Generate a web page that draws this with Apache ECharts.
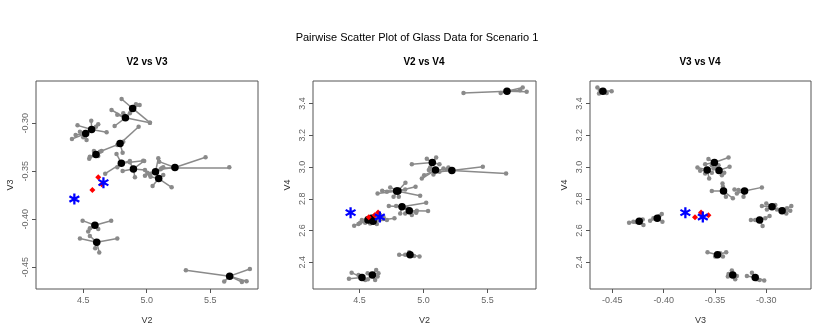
<!DOCTYPE html>
<html>
<head>
<meta charset="utf-8">
<script src="https://cdn.jsdelivr.net/npm/echarts@6/dist/echarts.min.js"></script>
<style>
  html, body { margin: 0; padding: 0; background: #fff; }
  #main { width: 830px; height: 334px; }
</style>
</head>
<body>
<div id="main"></div>
<script>
// cluster centres, same order in every array: A B C D E1 E2 F G H I J K L M
var centerV2 = [5.653, 5.069, 5.094, 5.222, 4.800, 4.790, 4.832, 4.889, 4.566, 4.606, 4.592, 4.895, 4.600, 4.519];
var centerV3 = [-0.4592, -0.3505, -0.3575, -0.3460, -0.3416, -0.3211, -0.2943, -0.2845, -0.3064, -0.4238, -0.4062, -0.3475, -0.3326, -0.3107];
var centerV4 = [3.478, 3.029, 2.981, 2.979, 2.849, 2.849, 2.750, 2.725, 2.666, 2.658, 2.677, 2.448, 2.320, 2.304];

// neighbours of each centre, read per panel
var satV2V3 = [
  [[5.308,-0.4531],[5.812,-0.4517],[5.610,-0.4649],[5.749,-0.4653],[5.786,-0.4646]],
  [[5.091,-0.3365],[4.986,-0.3545],[5.025,-0.3538],[5.117,-0.3469],[5.004,-0.3514]],
  [[5.046,-0.3653],[5.196,-0.3667],[5.130,-0.3538],[5.077,-0.3514],[5.030,-0.3556]],
  [[5.463,-0.3354],[5.650,-0.3458],[5.130,-0.3458],[5.109,-0.3479],[5.098,-0.3399]],
  [[4.762,-0.3319],[4.673,-0.3524],[4.972,-0.3389],[4.867,-0.3392],[4.768,-0.3458]],
  [[4.936,-0.3035],[4.810,-0.3306],[4.768,-0.3226],[4.644,-0.3288],[4.815,-0.3191]],
  [[4.723,-0.2861],[4.768,-0.2910],[4.747,-0.3028],[5.025,-0.2993],[4.815,-0.2896]],
  [[4.802,-0.2747],[4.944,-0.2809],[4.867,-0.2896],[5.025,-0.2993],[4.915,-0.2802]],
  [[4.455,-0.3021],[4.563,-0.2972],[4.618,-0.3010],[4.684,-0.3094],[4.600,-0.3035]],
  [[4.474,-0.4201],[4.768,-0.4201],[4.552,-0.4174],[4.626,-0.4347],[4.594,-0.4302]],
  [[4.495,-0.4014],[4.720,-0.4014],[4.539,-0.4128],[4.618,-0.4101],[4.552,-0.4094]],
  [[4.980,-0.3392],[4.907,-0.3563],[4.810,-0.3497],[4.986,-0.3486],[4.867,-0.3406]],
  [[4.547,-0.3368],[4.584,-0.3288],[4.552,-0.3347],[4.631,-0.3295],[4.618,-0.3340]],
  [[4.411,-0.3163],[4.440,-0.3122],[4.500,-0.3146],[4.474,-0.3087],[4.526,-0.3174]]
];
var satV2V4 = [
  [[5.313,3.467],[5.604,3.467],[5.776,3.501],[5.807,3.475],[5.755,3.484]],
  [[4.909,3.018],[5.026,3.052],[5.099,3.060],[5.125,3.018],[5.052,2.997]],
  [[5.042,2.981],[5.005,2.949],[4.987,2.928],[5.078,2.953],[5.182,2.985]],
  [[5.464,3.002],[5.646,2.960],[5.156,2.991],[5.195,2.997],[5.125,2.970]],
  [[4.641,2.834],[4.859,2.901],[4.938,2.876],[4.766,2.813],[4.740,2.872]],
  [[4.677,2.851],[4.974,2.819],[4.807,2.813],[4.857,2.859],[4.714,2.844]],
  [[4.729,2.754],[4.786,2.754],[5.021,2.775],[4.818,2.708],[4.870,2.740]],
  [[5.036,2.723],[4.943,2.712],[4.857,2.708],[4.909,2.698],[4.948,2.725]],
  [[4.458,2.631],[4.492,2.641],[4.518,2.666],[4.609,2.687],[4.544,2.650]],
  [[4.773,2.677],[4.648,2.670],[4.714,2.666],[4.635,2.641],[4.583,2.645]],
  [[4.505,2.649],[4.661,2.698],[4.622,2.687],[4.557,2.677],[4.688,2.683]],
  [[4.810,2.448],[4.888,2.463],[4.969,2.436],[4.927,2.440],[4.857,2.448]],
  [[4.630,2.352],[4.641,2.310],[4.622,2.289],[4.563,2.331],[4.648,2.331]],
  [[4.417,2.297],[4.438,2.335],[4.565,2.293],[4.492,2.320],[4.544,2.289]]
];
var satV3V4 = [
  [[-0.4646,3.501],[-0.4630,3.463],[-0.4555,3.467],[-0.4507,3.478],[-0.4620,3.484]],
  [[-0.3563,3.050],[-0.3367,3.060],[-0.3595,3.018],[-0.3530,3.012],[-0.3465,3.012]],
  [[-0.3670,2.997],[-0.3644,2.977],[-0.3556,2.928],[-0.3595,2.960],[-0.3530,2.964]],
  [[-0.3357,3.002],[-0.3409,2.964],[-0.3432,2.949],[-0.3514,2.991],[-0.3481,3.002]],
  [[-0.3530,2.849],[-0.3426,2.897],[-0.3393,2.813],[-0.3422,2.876],[-0.3325,2.803]],
  [[-0.3042,2.872],[-0.3309,2.859],[-0.3221,2.813],[-0.3286,2.834],[-0.3270,2.855]],
  [[-0.3042,2.754],[-0.2999,2.771],[-0.2911,2.761],[-0.2993,2.733],[-0.2895,2.733]],
  [[-0.2797,2.740],[-0.2755,2.754],[-0.2765,2.725],[-0.2804,2.708],[-0.2830,2.733]],
  [[-0.3149,2.666],[-0.2967,2.691],[-0.3035,2.629],[-0.3107,2.666],[-0.3009,2.677]],
  [[-0.4337,2.649],[-0.4295,2.656],[-0.4197,2.635],[-0.4204,2.670],[-0.4269,2.654]],
  [[-0.4132,2.662],[-0.4100,2.677],[-0.4018,2.704],[-0.4012,2.656],[-0.4041,2.691]],
  [[-0.3572,2.463],[-0.3390,2.463],[-0.3422,2.436],[-0.3497,2.436],[-0.3448,2.457]],
  [[-0.3374,2.310],[-0.3335,2.348],[-0.3302,2.293],[-0.3367,2.327],[-0.3286,2.314]],
  [[-0.3188,2.314],[-0.3139,2.335],[-0.3064,2.289],[-0.3019,2.285],[-0.3090,2.293]]
];

// red diamonds and blue stars
var redV2 = [4.572, 4.645, 4.618];
var redV3 = [-0.3694, -0.3635, -0.3563];
var redV4 = [2.684, 2.714, 2.696];
var starV2 = [4.430, 4.659];
var starV3 = [-0.3788, -0.3618];
var starV4 = [2.713, 2.685];

var ticksV2 = [4.5, 5.0, 5.5];
var ticksV3 = [-0.45, -0.40, -0.35, -0.30];
var ticksV4 = [2.4, 2.6, 2.8, 3.0, 3.2, 3.4];

// asterisk: three bars, same winding so the overlaps stay filled
var starPath = 'path://M-2,-10L2,-10L2,10L-2,10Z' +
  'M7.66,6.73L-9.66,-3.27L-7.66,-6.73L9.66,3.27Z' +
  'M-9.66,3.27L7.66,-6.73L9.66,-3.27L-7.66,6.73Z';

var FONT = 'Liberation Sans, Arial, sans-serif';

function zip(a, b) {
  return a.map(function (v, i) { return [v, b[i]]; });
}

function xAxisOf(idx, name, min, max, ticks, digits) {
  return {
    gridIndex: idx, type: 'value', min: min, max: max,
    name: name, nameLocation: 'middle', nameGap: 27,
    nameTextStyle: { fontFamily: FONT, fontSize: 9, color: '#333' },
    axisLine: { show: false },
    splitLine: { show: false },
    axisTick: { show: true, customValues: ticks, length: 4, lineStyle: { color: '#555' } },
    axisLabel: {
      customValues: ticks, fontFamily: FONT, fontSize: 9, color: '#666', margin: 7,
      formatter: function (v) { return v.toFixed(digits); }
    }
  };
}

function yAxisOf(idx, name, min, max, ticks, digits) {
  return {
    gridIndex: idx, type: 'value', min: min, max: max,
    name: name, nameLocation: 'middle', nameGap: 21,
    nameTextStyle: { fontFamily: FONT, fontSize: 9, color: '#333' },
    axisLine: { show: false },
    splitLine: { show: false },
    axisTick: { show: true, customValues: ticks, length: 4, lineStyle: { color: '#555' } },
    axisLabel: {
      customValues: ticks, rotate: 90, fontFamily: FONT, fontSize: 9, color: '#666', margin: 6,
      formatter: function (v) { return v.toFixed(digits); }
    }
  };
}

function panelSeries(idx, cx, cy, sats, rx, ry, sx, sy) {
  var segs = [], pts = [];
  cx.forEach(function (x, i) {
    sats[i].forEach(function (p) {
      segs.push({ coords: [[x, cy[i]], p] });
      pts.push(p);
    });
  });
  return [
    {
      type: 'lines', coordinateSystem: 'cartesian2d', xAxisIndex: idx, yAxisIndex: idx,
      data: segs, silent: true,
      lineStyle: { color: '#8a8a8a', width: 1.5, opacity: 1 }
    },
    {
      type: 'scatter', xAxisIndex: idx, yAxisIndex: idx, data: pts,
      symbolSize: 4.5, itemStyle: { color: '#8a8a8a', opacity: 1 }, silent: true
    },
    {
      type: 'scatter', xAxisIndex: idx, yAxisIndex: idx, data: zip(cx, cy),
      symbolSize: 7.5, itemStyle: { color: '#000', opacity: 1 }, silent: true
    },
    {
      type: 'scatter', xAxisIndex: idx, yAxisIndex: idx, data: zip(rx, ry),
      symbol: 'diamond', symbolSize: 6, itemStyle: { color: '#ff0000', opacity: 1 }, silent: true
    },
    {
      type: 'scatter', xAxisIndex: idx, yAxisIndex: idx, data: zip(sx, sy),
      symbol: starPath, symbolSize: 11, itemStyle: { color: '#0000ff', opacity: 1 }, silent: true
    }
  ];
}

var chart = echarts.init(document.getElementById('main'), null, { renderer: 'canvas' });

var gridBase = { top: 81, height: 208, show: true, borderColor: '#555', borderWidth: 1, backgroundColor: 'transparent' };

var option = {
  backgroundColor: '#fff',
  animation: false,
  grid: [
    Object.assign({ left: 36, width: 222 }, gridBase),
    Object.assign({ left: 313, width: 223 }, gridBase),
    Object.assign({ left: 590, width: 221 }, gridBase)
  ],
  xAxis: [
    xAxisOf(0, 'V2', 4.128, 5.876, ticksV2, 1),
    xAxisOf(1, 'V2', 4.136, 5.880, ticksV2, 1),
    xAxisOf(2, 'V3', -0.4718, -0.2563, ticksV3, 2)
  ],
  yAxis: [
    yAxisOf(0, 'V3', -0.4726, -0.2559, ticksV3, 2),
    yAxisOf(1, 'V4', 2.232, 3.542, ticksV4, 1),
    yAxisOf(2, 'V4', 2.232, 3.542, ticksV4, 1)
  ],
  graphic: [
    { type: 'text', x: 417, y: 38, silent: true,
      style: { text: 'Pairwise Scatter Plot of Glass Data for Scenario 1', align: 'center', verticalAlign: 'middle',
               textAlign: 'center', textVerticalAlign: 'middle', font: '11px ' + FONT, fill: '#000' } },
    { type: 'text', x: 147, y: 62, silent: true,
      style: { text: 'V2 vs V3', align: 'center', verticalAlign: 'middle', textAlign: 'center', textVerticalAlign: 'middle',
               font: 'bold 10px ' + FONT, fill: '#000' } },
    { type: 'text', x: 424, y: 62, silent: true,
      style: { text: 'V2 vs V4', align: 'center', verticalAlign: 'middle', textAlign: 'center', textVerticalAlign: 'middle',
               font: 'bold 10px ' + FONT, fill: '#000' } },
    { type: 'text', x: 700, y: 62, silent: true,
      style: { text: 'V3 vs V4', align: 'center', verticalAlign: 'middle', textAlign: 'center', textVerticalAlign: 'middle',
               font: 'bold 10px ' + FONT, fill: '#000' } }
  ],
  series: [].concat(
    panelSeries(0, centerV2, centerV3, satV2V3, redV2, redV3, starV2, starV3),
    panelSeries(1, centerV2, centerV4, satV2V4, redV2, redV4, starV2, starV4),
    panelSeries(2, centerV3, centerV4, satV3V4, redV3, redV4, starV3, starV4)
  )
};

chart.setOption(option);
</script>
</body>
</html>
